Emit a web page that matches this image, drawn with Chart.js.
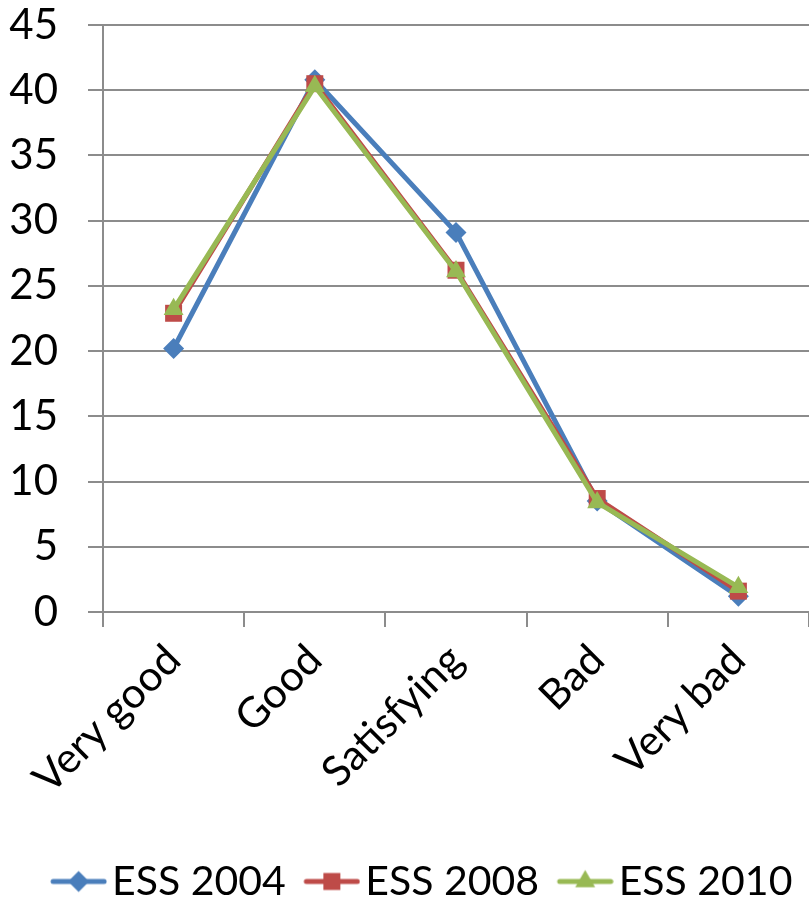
<!DOCTYPE html>
<html>
<head>
<meta charset="utf-8">
<script src="https://cdn.jsdelivr.net/npm/chart.js@4/dist/chart.umd.min.js"></script>
<style>
  html, body { margin: 0; padding: 0; background: #ffffff; }
  #wrap { width: 809px; height: 900px; }
</style>
</head>
<body>
<div id="wrap"><canvas id="chart" width="809" height="900"></canvas></div>
<script>
// Self-rated health, share of respondents (%)
const categories = ['Very good', 'Good', 'Satisfying', 'Bad', 'Very bad'];
const ess2004 = [20.2, 40.8, 29.1, 8.5, 1.2];
const ess2008 = [22.9, 40.5, 26.2, 8.7, 1.6];
const ess2010 = [23.2, 40.3, 26.1, 8.4, 1.9];
const seriesNames = ['ESS 2004', 'ESS 2008', 'ESS 2010'];
const yMin = 0, yMax = 45, yStep = 5;

const FONT = 'Lato, "Open Sans", sans-serif';
const FONT_SIZE = 42;
const LEGEND_FONT_SIZE = 41;
const GRID = '#8c8c8c';
const colors = ['#4a7ebb', '#be4b48', '#98b954'];
const styles = ['rectRot', 'rect', 'triangle'];
const radii = [10.5, 12, 11.5];

// Legend swatch: a short line with the series marker, drawn in the right part
// of a transparent canvas so that it sits just before its text
const SWATCH_BOX = 41;     // legend pointStyleWidth
const LINE_LEN = 57;
const SWATCH_W = 2 * (SWATCH_BOX + LEGEND_FONT_SIZE / 2 - 5 - SWATCH_BOX / 2);
function legendIcon(color, style, r) {
  const c = document.createElement('canvas');
  c.width = SWATCH_W; c.height = 26;
  const g = c.getContext('2d');
  const x1 = SWATCH_W - LINE_LEN, x2 = SWATCH_W;
  const cx = (x1 + x2) / 2, cy = 13;
  g.strokeStyle = color; g.fillStyle = color;
  g.lineWidth = 5; g.lineCap = 'round';
  g.beginPath(); g.moveTo(x1 + 3, cy); g.lineTo(x2 - 3, cy); g.stroke();
  g.beginPath();
  if (style === 'rectRot') {
    g.moveTo(cx, cy - r); g.lineTo(cx + r, cy); g.lineTo(cx, cy + r); g.lineTo(cx - r, cy);
  } else if (style === 'rect') {
    const s = r * Math.SQRT1_2;
    g.rect(cx - s, cy - s, 2 * s, 2 * s);
  } else {
    const h = r * Math.sqrt(3) / 2;
    g.moveTo(cx, cy - r); g.lineTo(cx + h, cy + r / 2); g.lineTo(cx - h, cy + r / 2);
  }
  g.closePath(); g.fill();
  return c;
}
const icons = colors.map((c, i) => legendIcon(c, styles[i], radii[i]));

const seriesData = [ess2004, ess2008, ess2010];
const datasets = seriesData.map((d, i) => ({
  label: seriesNames[i],
  data: d,
  borderColor: colors[i],
  backgroundColor: colors[i],
  borderWidth: 5,
  pointStyle: styles[i],
  pointRadius: radii[i],
  pointHoverRadius: radii[i],
  pointBorderWidth: 0,
  pointBackgroundColor: colors[i],
  tension: 0,
  order: 3 - i
}));

// Nudge the legend row a little to the right of centre
const legendShift = {
  id: 'legendShift',
  afterLayout(chart) {
    if (chart.legend) {
      chart.legend.left += 17;
      chart.legend.right += 17;
    }
  }
};

new Chart(document.getElementById('chart'), {
  type: 'line',
  data: { labels: categories, datasets },
  plugins: [legendShift],
  options: {
    responsive: false,
    animation: false,
    layout: { autoPadding: false, padding: { left: 0, right: 0, top: 0, bottom: -12 } },
    plugins: {
      tooltip: { enabled: false },
      legend: {
        position: 'bottom',
        labels: {
          usePointStyle: true,
          pointStyleWidth: SWATCH_BOX,
          padding: 18,
          color: '#000',
          font: { family: FONT, size: LEGEND_FONT_SIZE },
          generateLabels: (chart) => chart.data.datasets.map((ds, i) => ({
            text: ds.label,
            pointStyle: icons[i],
            fillStyle: 'rgba(0,0,0,0)',
            strokeStyle: 'rgba(0,0,0,0)',
            lineWidth: 0,
            fontColor: '#000',
            hidden: !chart.isDatasetVisible(i),
            datasetIndex: i
          }))
        }
      }
    },
    scales: {
      x: {
        offset: true,
        grid: {
          offset: true,
          drawOnChartArea: false,
          drawTicks: true,
          tickLength: 15,
          color: GRID,
          lineWidth: 2
        },
        border: { color: GRID, width: 2 },
        ticks: {
          color: '#000',
          font: { family: FONT, size: FONT_SIZE },
          minRotation: 45,
          maxRotation: 45,
          padding: 8
        },
        afterFit: (scale) => {
          scale.paddingLeft = 0;
          scale.paddingRight = 0;
          scale.height = 231;
        }
      },
      y: {
        min: yMin,
        max: yMax,
        grid: { color: GRID, lineWidth: 2, tickLength: 15 },
        border: { color: GRID, width: 2 },
        ticks: {
          stepSize: yStep,
          color: '#000',
          padding: 30,
          font: { family: FONT, size: FONT_SIZE }
        },
        afterFit: (scale) => {
          scale.width = 103;
          scale.paddingTop = 25;
          scale.paddingBottom = 0;
        }
      }
    }
  }
});
</script>
</body>
</html>
